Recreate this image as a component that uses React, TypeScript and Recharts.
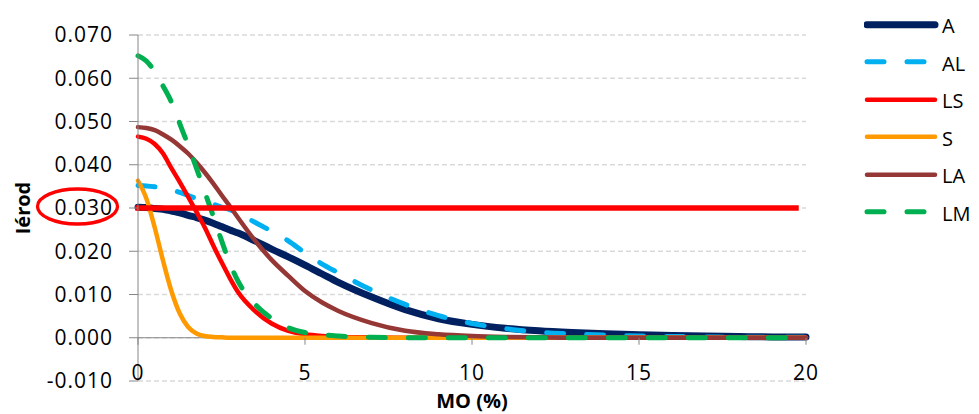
import React from "react";
import {
  CartesianGrid,
  Legend,
  Line,
  LineChart,
  ReferenceLine,
  XAxis,
  YAxis
} from "recharts";

// MO (%) sample points shared by every curve
const MO = [0, 0.25, 0.5, 0.75, 1, 1.25, 1.5, 1.75, 2, 2.25, 2.5, 2.75, 3, 3.5, 4, 4.5, 5, 5.5, 6, 7, 8, 9, 10, 11, 12, 13, 14, 15, 16, 17, 18, 19, 20];

const A = [0.0302, 0.0301, 0.0299, 0.0297, 0.0293, 0.0289, 0.0283, 0.0278, 0.0272, 0.0265, 0.0257, 0.0249, 0.0242, 0.0224, 0.0205, 0.0187, 0.0168, 0.0148, 0.0128, 0.0094, 0.0065, 0.0044, 0.0031, 0.0022, 0.0016, 0.0012, 0.0009, 0.0007, 0.0005, 0.0004, 0.0003, 0.0002, 0.0002];
const AL = [0.0352, 0.0351, 0.0349, 0.0346, 0.0342, 0.0336, 0.0329, 0.0322, 0.0316, 0.0309, 0.0302, 0.0296, 0.0287, 0.0267, 0.0246, 0.0224, 0.0196, 0.0171, 0.015, 0.011, 0.0077, 0.0051, 0.0033, 0.0021, 0.0013, 0.0009, 0.0006, 0.0004, 0.0003, 0.0002, 0.0001, 0.0001, 0.0001];
const LS = [0.0465, 0.046, 0.0448, 0.0426, 0.0392, 0.036, 0.0326, 0.0291, 0.0255, 0.0214, 0.0175, 0.0138, 0.0105, 0.0062, 0.0033, 0.0016, 0.0008, 0.0004, 0.0002, 0.0001, 0, 0, 0, 0, 0, 0, 0, 0, 0, 0, 0, 0, 0];
const S = [0.0363, 0.0322, 0.0255, 0.0178, 0.0108, 0.0056, 0.0025, 0.001, 0.0004, 0.0002, 0.0001, 0, 0, 0, 0, 0, 0, 0, 0, 0, 0, 0, 0, 0, 0, 0, 0, 0, 0, 0, 0, 0, 0];
const LA = [0.0487, 0.0485, 0.048, 0.047, 0.0458, 0.0443, 0.0426, 0.0405, 0.0382, 0.0357, 0.033, 0.0304, 0.0277, 0.0225, 0.018, 0.0143, 0.0108, 0.0082, 0.0062, 0.0034, 0.0016, 0.0008, 0.0004, 0.0002, 0.0001, 0, 0, 0, 0, 0, 0, 0, 0];
const LM = [0.0652, 0.064, 0.0615, 0.0582, 0.0545, 0.0495, 0.0445, 0.0392, 0.0337, 0.0282, 0.0225, 0.0172, 0.013, 0.0078, 0.0045, 0.0023, 0.0012, 0.0007, 0.0004, 0.0001, 0, 0, 0, 0, 0, 0, 0, 0, 0, 0, 0, 0, 0];

// seuil Iérod = 0.030
const THRESHOLD_X = [0, 19.7];
const THRESHOLD_Y = 0.03;

const X_TICKS = [0, 5, 10, 15, 20];
const Y_TICKS = [-0.01, 0, 0.01, 0.02, 0.03, 0.04, 0.05, 0.06, 0.07];
const Y_MIN = -0.01;
const Y_MAX = 0.07;

const SERIES = [
  { key: "A", color: "#002060", width: 7, dash: undefined },
  { key: "AL", color: "#00B0F0", width: 5, dash: "17 23" },
  { key: "LS", color: "#FF0000", width: 4.5, dash: undefined },
  { key: "S", color: "#FF9900", width: 4.5, dash: undefined },
  { key: "LA", color: "#953735", width: 4.5, dash: undefined },
  { key: "LM", color: "#00B050", width: 5, dash: "17 23" }
];

const values: Record<string, number[]> = { A, AL, LS, S, LA, LM };
const data = MO.map((x, i) => {
  const row: Record<string, number> = { x };
  for (const s of SERIES) row[s.key] = values[s.key][i];
  return row;
});
const thresholdData = THRESHOLD_X.map((x) => ({ x, y: THRESHOLD_Y }));

const W = 979;
const H = 414;
const LEGEND_W = 116;
// the vertical legend on the right is added to the right margin by recharts
const MARGIN = { top: 35, right: 173 - LEGEND_W, left: 0, bottom: 0 };
const Y_AXIS_W = 138;
const X_AXIS_H = 33;
const PLOT_H = H - MARGIN.top - X_AXIS_H;
const FONT = "'Open Sans', 'Liberation Sans', sans-serif";

function XTick(props: any) {
  const { x, y, payload } = props;
  // axis crosses at 0, so tick marks sit on the zero line
  const zeroY = y - (PLOT_H * (0 - Y_MIN)) / (Y_MAX - Y_MIN);
  return (
    <g>
      <line x1={x} x2={x} y1={zeroY} y2={zeroY + 7} stroke="#868686" strokeWidth={1} />
      <text x={x} y={y - 1} textAnchor="middle" fill="#000" fontSize={21} fontFamily={FONT} letterSpacing={1}>
        {payload.value}
      </text>
    </g>
  );
}

function LegendBox() {
  return (
    <div style={{ fontFamily: FONT, width: LEGEND_W }}>
      {SERIES.map((s) => (
        <div key={s.key} style={{ display: "flex", alignItems: "center", height: 37.5 }}>
          <svg width={78} height={37.5}>
            <line
              x1={3}
              x2={71}
              y1={18.75}
              y2={18.75}
              stroke={s.color}
              strokeWidth={s.width}
              strokeDasharray={s.dash}
              strokeLinecap="round"
            />
          </svg>
          <span style={{ fontSize: 20, color: "#000", marginTop: 4, lineHeight: 1 }}>{s.key}</span>
        </div>
      ))}
    </div>
  );
}

export default function App() {
  return (
    <div style={{ position: "absolute", left: 0, top: 0, width: W, height: H, background: "#fff" }}>
      <LineChart width={W} height={H} data={data} margin={MARGIN} style={{ fontFamily: FONT }}>
        <CartesianGrid vertical={false} stroke="#d9d9d9" strokeWidth={1.3} strokeDasharray="5 3" />
        <XAxis
          dataKey="x"
          type="number"
          domain={[0, 20]}
          ticks={X_TICKS}
          axisLine={false}
          tickLine={false}
          tickSize={0}
          tickMargin={0}
          height={X_AXIS_H}
          tick={<XTick />}
          label={{
            content: ({ viewBox }: any) => (
              <text
                x={viewBox.x + viewBox.width / 2}
                y={viewBox.y + 27}
                textAnchor="middle"
                fontSize={20}
                fontWeight="bold"
                fontFamily={FONT}
                fill="#000"
              >
                MO (%)
              </text>
            )
          }}
        />
        <YAxis
          type="number"
          domain={[Y_MIN, Y_MAX]}
          ticks={Y_TICKS}
          width={Y_AXIS_W}
          axisLine={{ stroke: "#868686", strokeWidth: 1 }}
          tickLine={{ stroke: "#868686", strokeWidth: 1 }}
          tickSize={9}
          tickMargin={16}
          tick={{ fill: "#000", fontSize: 21, fontFamily: FONT, letterSpacing: 1 }}
          tickFormatter={(v: number) => v.toFixed(3)}
          label={{
            content: ({ viewBox }: any) => {
              const cx = viewBox.x + 22;
              const cy = viewBox.y + viewBox.height / 2;
              return (
                <text
                  x={cx}
                  y={cy}
                  transform={`rotate(-90 ${cx} ${cy})`}
                  textAnchor="middle"
                  dominantBaseline="central"
                  fontSize={20}
                  fontWeight="bold"
                  fontFamily={FONT}
                  fill="#000"
                >
                  Iérod
                </text>
              );
            }
          }}
        />
        <ReferenceLine y={0} stroke="#868686" strokeWidth={1} />
        {SERIES.map((s) => (
          <Line
            key={s.key}
            type="monotone"
            dataKey={s.key}
            name={s.key}
            stroke={s.color}
            strokeWidth={s.width}
            strokeDasharray={s.dash}
            strokeLinecap="round"
            dot={false}
            activeDot={false}
            isAnimationActive={false}
          />
        ))}
        <Line
          data={thresholdData}
          type="linear"
          dataKey="y"
          name="seuil"
          legendType="none"
          stroke="#FF0000"
          strokeWidth={5.5}
          strokeLinecap="square"
          dot={false}
          activeDot={false}
          isAnimationActive={false}
        />
        <Legend
          layout="vertical"
          verticalAlign="top"
          align="right"
          content={<LegendBox />}
          wrapperStyle={{ left: 864, top: 5.5, width: LEGEND_W }}
        />
      </LineChart>
      <svg width={W} height={H} style={{ position: "absolute", left: 0, top: 0, pointerEvents: "none" }}>
        <ellipse cx={77.5} cy={206.5} rx={40} ry={17.5} fill="none" stroke="#FF0000" strokeWidth={3.3} />
      </svg>
    </div>
  );
}
